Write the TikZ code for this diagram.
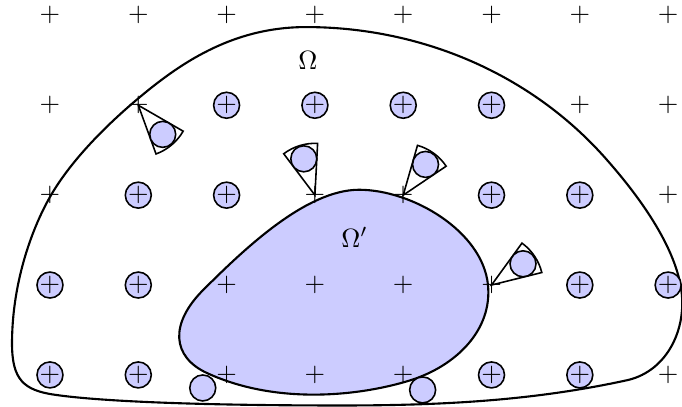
\documentclass[tikz,border=0pt]{standalone}
\usepackage{amsmath,amssymb}
\usepackage{tikz}
\usetikzlibrary{arrows.meta}
\tikzset{>=Stealth,pointgrille/.style={inner sep=0pt},
 boule/.style={circle,draw,semithick,fill=blue!20,inner sep=0pt,minimum size=.346cm},
 bord/.style={thick},secteur/.style={semithick}}

\begin{document}
\begin{tikzpicture}[x=1.176cm,y=1.197cm]
\useasboundingbox (-.566,-.356) rectangle (7.157,4.171);
% Domaine exterieur Omega.
\draw[bord] (2.9,3.87) .. controls (4.2,3.87) and (5.45,3.35) .. (6.3,2.4)
 .. controls (6.75,1.9) and (7.16,1.3) .. (7.16,.8)
 .. controls (7.16,.4) and (6.93,.025) .. (6.53,-.06)
 .. controls (5.5,-.28) and (4.5,-.34) .. (3.3,-.34)
 .. controls (1.8,-.34) and (.6,-.3) .. (.05,-.22)
 .. controls (-.3,-.17) and (-.43,-.05) .. (-.43,.35)
 .. controls (-.43,1) and (-.22,1.6) .. (0,1.98)
 .. controls (.22,2.36) and (.6,2.745) .. (.98,3.06)
 .. controls (1.45,3.45) and (2.05,3.87) .. cycle;
% Sous-domaine Omega', rempli.
\filldraw[bord,fill=blue!20] (3.5,2.06) .. controls (4.1,2.06) and (4.9,1.6) .. (4.96,1)
 .. controls (5.01,.5) and (4.6,.1) .. (4.08,-.06)
 .. controls (3.56,-.22) and (2.6,-.35) .. (1.78,.02)
 .. controls (1.38,.2) and (1.35,.57) .. (1.74,.95)
 .. controls (2.2,1.4) and (2.9,2.06) .. cycle;
% Points entoures.
\foreach \i/\j in {2/3,3/3,4/3,5/3,1/2,2/2,5/2,6/2,0/1,1/1,6/1,7/1,0/0,1/0,5/0,6/0}
 \node[boule] (b\i\j) at (\i,\j) {};
% Grille de points.
\foreach \i in {0,...,7}
 \foreach \j in {0,...,4}
  \node[pointgrille] (p\i\j) at (\i,\j) {$+$};
% Secteurs coniques avec leur boule.
\foreach \i/\j/\a in {1/3/-50,3/2/107,4/2/54,5/1/34}{
 \draw[secteur] (p\i\j.center)--++(\a-20:.69cm) arc[start angle=\a-20,end angle=\a+20,radius=.69cm]--cycle;
 \node[boule] (c\i\j) at ([shift={(\a:.506cm)}]p\i\j.center) {};
}
% Boules tangentes au bord de Omega'.
\node[boule] (t1) at (1.73,-.145) {};
\node[boule] (t2) at (4.22,-.167) {};
\node (omega) at (2.92,3.5) {$\Omega$};
\node (omegap) at (3.45,1.53) {$\Omega'$};
\end{tikzpicture}
\end{document}
